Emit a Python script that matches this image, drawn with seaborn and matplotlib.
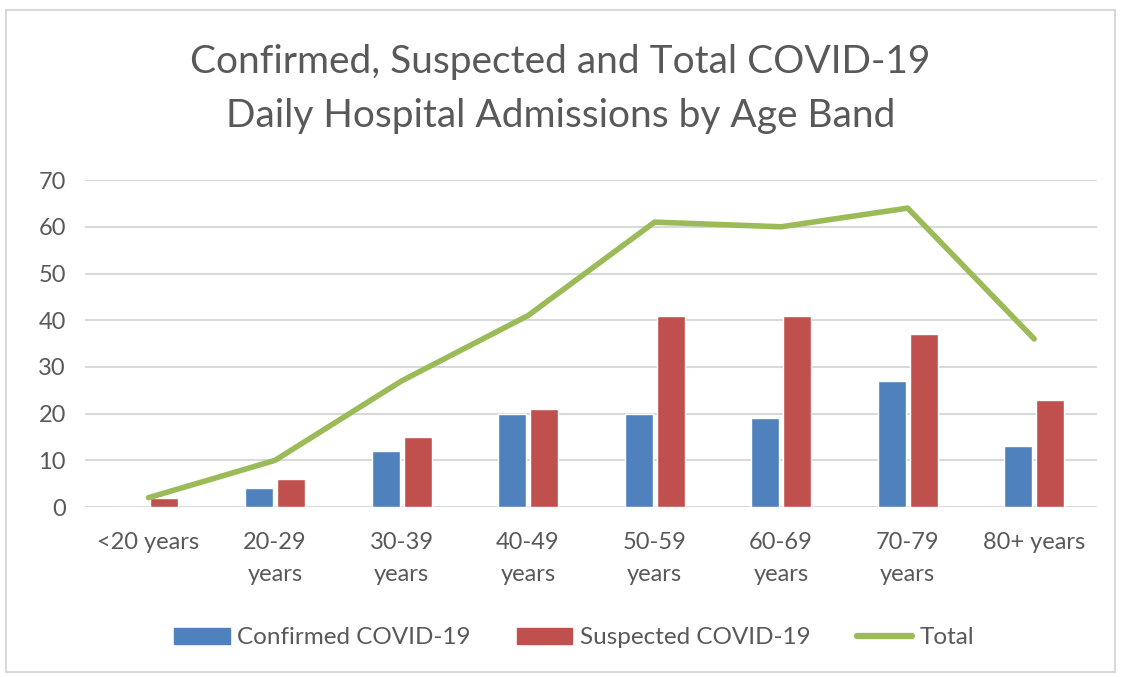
import matplotlib
matplotlib.use("Agg")
import matplotlib.pyplot as plt
from matplotlib.patches import Rectangle
from matplotlib.lines import Line2D
import seaborn as sns
import pandas as pd

age_bands = ["<20 years", "20-29\nyears", "30-39\nyears", "40-49\nyears",
             "50-59\nyears", "60-69\nyears", "70-79\nyears", "80+ years"]
confirmed = [0, 4, 12, 20, 20, 19, 27, 13]
suspected = [2, 6, 15, 21, 41, 41, 37, 23]
total = [2, 10, 27, 41, 61, 60, 64, 36]

sns.set_theme(style="white")
plt.rcParams["font.family"] = ["Lato", "DejaVu Sans"]
text_color = "#595959"

df = pd.DataFrame({
    "age": age_bands * 2,
    "value": confirmed + suspected,
    "series": ["Confirmed COVID-19"] * len(age_bands) + ["Suspected COVID-19"] * len(age_bands),
})

fig = plt.figure(figsize=(11.21, 6.77), dpi=100)
ax = fig.add_axes([0.076, 0.251, 0.903, 0.483])

sns.barplot(data=df, x="age", y="value", hue="series", order=age_bands,
            palette=["#4F81BD", "#C0504D"], saturation=1, width=0.506, gap=0.125,
            ax=ax, legend=False, zorder=3)
sns.lineplot(x=list(range(len(age_bands))), y=total, color="#9BBB59",
             linewidth=4, ax=ax, zorder=4)

ax.set_ylim(0, 70)
ax.set_xlim(-0.5, len(age_bands) - 0.5)
ax.set_yticks(range(0, 71, 10))
ax.grid(axis="y", color="#D9D9D9", linewidth=1.5, zorder=0)
ax.set_axisbelow(True)
for s in ax.spines.values():
    s.set_visible(False)
ax.tick_params(axis="x", length=0, labelsize=17, colors=text_color, pad=18)
ax.tick_params(axis="y", length=0, labelsize=17, colors=text_color, pad=14)
ax.set_xlabel("")
ax.set_ylabel("")
for lbl in ax.get_xticklabels():
    lbl.set_linespacing(1.65)

fig.text(0.5, 1 - 89 / 677,
         "Confirmed, Suspected and Total COVID-19\nDaily Hospital Admissions by Age Band",
         ha="center", va="center", fontsize=28, color=text_color, linespacing=1.6)

handles = [
    Rectangle((0, 0), 1, 1, color="#4F81BD"),
    Rectangle((0, 0), 1, 1, color="#C0504D"),
    Line2D([0], [0], color="#9BBB59", linewidth=4.5),
]
fig.legend(handles, ["Confirmed COVID-19", "Suspected COVID-19", "Total"],
           loc="center", bbox_to_anchor=(574 / 1121, 1 - 638 / 677), ncol=3, frameon=False,
           fontsize=17.5, labelcolor=text_color, handlelength=2.3, handleheight=0.6,
           handletextpad=0.3, columnspacing=1.9)

fig.patches.append(Rectangle((0.005, 0.007), 0.99, 0.978, transform=fig.transFigure,
                             fill=False, edgecolor="#D9D9D9", linewidth=1.5))

fig.savefig("out.png", dpi=100)
